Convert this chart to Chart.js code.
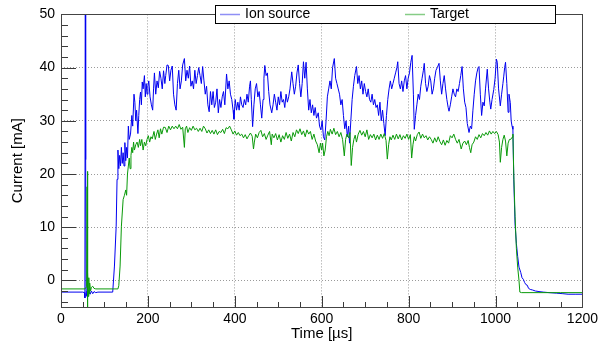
<!DOCTYPE html>
<html>
<head>
<meta charset="utf-8">
<script src="https://cdn.jsdelivr.net/npm/chart.js@4.4.0/dist/chart.umd.min.js"></script>
<style>
  html, body { margin: 0; padding: 0; background: #fff; }
  #wrap { width: 602px; height: 343px; }
</style>
</head>
<body>
<div id="wrap"><canvas id="pulseChart" width="602" height="343"></canvas></div>
<script>
// Ion source current (blue) - time in us, current in mA
const ionTime = [0, 50, 54, 55, 56, 56.5, 57, 58, 60, 62, 64, 67, 70, 73, 76, 80, 85, 119, 123, 127, 129, 131, 133, 135, 137, 139, 141, 143, 145, 147, 149, 151, 153, 155, 157, 160, 163, 165, 168, 170, 172, 174, 177, 179, 181, 183, 185, 187, 189, 192, 194, 196, 198, 200, 202, 205, 208, 211, 213, 215, 218, 221, 224, 227, 230, 233, 236, 239, 241, 244, 247, 250, 253, 256, 259, 262, 265, 268, 271, 274, 277, 280, 284, 287, 290, 293, 296, 299, 302, 305, 308, 311, 314, 317, 320, 323, 326, 329, 332, 335, 338, 341, 344, 347, 350, 353, 356, 359, 362, 365, 368, 371, 374, 377, 381, 384, 387, 390, 393, 396, 398, 401, 404, 407, 410, 413, 416, 419, 422, 425, 428, 431, 434, 436, 438, 441, 444, 447, 450, 453, 456, 459, 462, 465, 467, 469, 472, 475, 478, 481, 485, 488, 491, 494, 497, 500, 503, 506, 509, 512, 515, 518, 521, 524, 527, 531, 534, 537, 540, 543, 546, 549, 552, 555, 558, 561, 564, 567, 570, 573, 576, 579, 582, 585, 588, 592, 595, 598, 601, 604, 607, 610, 613, 616, 619, 622, 625, 629, 632, 635, 638, 641, 644, 647, 650, 653, 656, 659, 662, 664, 667, 670, 673, 676, 680, 683, 686, 689, 692, 695, 698, 701, 704, 707, 710, 713, 716, 719, 722, 725, 728, 731, 734, 737, 740, 743, 746, 749, 752, 755, 758, 761, 764, 767, 770, 773, 775, 778, 781, 784, 787, 790, 793, 796, 799, 802, 805, 808, 811, 813, 816, 819, 822, 825, 828, 831, 834, 836, 839, 842, 845, 848, 851, 854, 857, 860, 863, 866, 870, 873, 876, 879, 882, 885, 888, 891, 893, 896, 899, 902, 905, 908, 911, 914, 917, 920, 923, 926, 929, 932, 935, 939, 942, 945, 948, 951, 954, 957, 960, 962, 965, 968, 971, 974, 977, 981, 984, 987, 989, 992, 996, 999, 1002, 1004, 1007, 1011, 1014, 1017, 1019, 1021, 1023, 1026, 1029, 1031, 1034, 1036, 1038, 1040, 1042, 1045, 1048, 1051, 1054, 1058, 1061, 1064, 1067, 1070, 1073, 1076, 1080, 1085, 1092, 1100, 1110, 1123, 1140, 1155, 1167, 1185, 1200];
const ionCurrent = [-2.2, -2.2, -2.3, -3.3, 70, 70, 22.7, -3.0, -2.0, -3.0, -1.8, -2.6, -2.0, -2.5, -2.1, -2.3, -2.2, -2.2, 2.7, 10.2, 19, 24.5, 21, 23.5, 21.5, 25, 22, 24, 21.5, 25.9, 22.5, 25, 23, 29, 26.5, 27.5, 31, 29, 35, 33.5, 30, 32, 27.6, 31, 34, 35.4, 33, 37.3, 36, 38.5, 34.5, 37, 35, 36.5, 37.5, 34.5, 33, 32, 36, 39, 35, 37.5, 36.2, 39.3, 38, 36, 39.4, 37, 38.5, 40.5, 40.4, 37.5, 39.5, 40.3, 35, 33, 32, 37, 39.5, 36, 37.5, 40.5, 41.7, 37.5, 39.5, 38, 40.3, 36.5, 37.5, 36, 39.5, 37, 38.5, 40, 38.5, 37, 40.2, 37.5, 35, 36.5, 33, 31.7, 35.5, 33, 35.5, 32.5, 33.5, 36, 31.5, 34, 32.5, 34.5, 35.5, 33, 38.8, 36, 37.5, 35, 34, 32, 30.3, 34, 32, 33.5, 32, 34.5, 33, 32.5, 34, 33, 35, 33.5, 36.5, 37.5, 34, 28.9, 33, 36, 37, 34.5, 35.5, 33, 30.5, 34, 38, 40.4, 38.5, 39, 35.5, 33, 31.5, 33, 35, 33.5, 32, 34.5, 33, 35.5, 33.5, 34, 32.5, 35, 33.5, 34.5, 36, 39.2, 37, 35, 36.5, 39, 40.5, 37, 34.5, 37, 41.1, 38, 41, 36, 32, 34, 31.5, 33, 31, 32.5, 30.5, 31.5, 29, 28.3, 30, 27, 26.4, 30, 34.5, 36, 37.5, 36, 40, 41.7, 38, 37, 36, 35, 33, 34, 31, 28.5, 30, 27, 29, 25.8, 30, 34, 36.5, 38.5, 40.2, 37, 38.5, 36, 37.5, 35, 37, 35.5, 34.5, 36, 34, 33.5, 35, 33, 34, 32.5, 33, 31, 33.5, 30, 32, 29.5, 27.2, 31, 34, 36, 37.5, 36, 37, 38, 39, 40, 41.1, 37, 36, 37.5, 35.5, 37.5, 38.5, 36, 38, 39, 41, 42.3, 35, 28.4, 31, 33, 35, 34, 36.5, 38, 39.5, 40.8, 37, 35.5, 36.5, 38.5, 37.5, 35, 36, 38, 39.5, 40, 40.8, 37.5, 35, 37, 38.5, 36, 34, 32.5, 31.8, 33, 34.5, 36, 35, 34.5, 36, 35.5, 37, 38.5, 40.2, 36, 33.5, 32.5, 29.5, 27.8, 29, 28.5, 32, 35, 37.5, 39, 40, 40.2, 35, 31, 33.5, 32.8, 36, 39.7, 36, 33.5, 32.2, 34, 35.9, 38, 41.6, 41, 36, 32.8, 35, 37, 38.4, 40, 41, 37, 31.6, 35, 33.4, 30, 29, 28.4, 19, 10.6, 6.9, 4.5, 2.5, 1.5, 0.5, 0.2, -0.4, -0.8, -0.9, -1.5, -1.7, -1.8, -2.0, -2.1, -2.2, -2.3, -2.4, -2.5, -2.6, -2.6, -2.6];

// Target current (green)
const targetTime = [0, 1, 55, 59, 60, 60.5, 61, 61.5, 62, 63, 64, 65, 66, 68, 70, 73, 76, 80, 131, 133, 136, 139, 143, 146, 149, 151, 153, 155, 157, 159, 161, 163, 165, 167, 169, 172, 175, 178, 181, 183, 186, 189, 192, 195, 198, 201, 204, 207, 210, 214, 217, 220, 223, 226, 229, 232, 236, 240, 244, 248, 252, 256, 260, 264, 268, 272, 276, 280, 284, 286, 289, 292, 296, 300, 304, 308, 312, 316, 320, 324, 328, 332, 336, 340, 344, 348, 352, 356, 360, 364, 368, 372, 376, 380, 384, 388, 392, 396, 400, 404, 408, 412, 416, 420, 424, 428, 432, 436, 440, 443, 445, 448, 452, 456, 460, 464, 468, 472, 476, 480, 484, 486, 490, 494, 498, 502, 506, 510, 514, 518, 522, 526, 530, 534, 538, 542, 546, 550, 554, 558, 562, 566, 570, 574, 578, 582, 586, 590, 594, 597, 600, 602, 605, 608, 611, 614, 617, 620, 624, 628, 632, 636, 640, 644, 648, 652, 655, 658, 662, 665, 668, 671, 674, 677, 680, 684, 688, 692, 696, 700, 704, 708, 712, 716, 720, 724, 728, 732, 736, 740, 744, 748, 751, 754, 757, 760, 764, 768, 772, 776, 780, 784, 788, 792, 796, 800, 804, 807, 810, 813, 816, 820, 824, 828, 832, 836, 840, 844, 848, 852, 856, 860, 864, 868, 872, 876, 880, 884, 888, 892, 896, 900, 904, 908, 912, 916, 921, 925, 929, 933, 937, 940, 943, 946, 950, 954, 958, 962, 966, 970, 974, 978, 982, 986, 990, 994, 998, 1002, 1006, 1009, 1011, 1014, 1017, 1020, 1023, 1026, 1029, 1032, 1035, 1038, 1040, 1042, 1045, 1048, 1051, 1054, 1056, 1060, 1100, 1150, 1200];
const targetCurrent = [-0.2, -1.6, -1.6, -1.2, 17.6, -2, 20.5, -5.5, 1.5, -3, 0.5, -2.5, -0.5, -2, -1.3, -1.1, -1.5, -1.6, -1.6, -1, 2.7, 10.2, 15.2, 16, 17, 16, 20, 21.5, 23, 21, 23.5, 25, 24, 26, 24.5, 25.5, 26, 25, 26.5, 25.3, 26.5, 24.5, 26, 25.3, 26.5, 27.2, 26, 27, 26.6, 28, 26.5, 27.5, 28.3, 26.8, 28.5, 27.5, 28.8, 28.75, 27.8, 29, 28.3, 29, 28.5, 29, 28.5, 29.3, 28.4, 28.8, 25, 28.5, 29, 27.8, 28.7, 28.2, 29, 28.3, 28.6, 28, 28.6, 28, 29, 28.5, 27.7, 28.3, 27.6, 28.2, 27.5, 28.3, 27.4, 28, 27.8, 28.4, 27.6, 28.7, 28.5, 29, 28.3, 27.5, 28.1, 27.3, 27.8, 27.2, 27.5, 26.8, 27.4, 26.6, 27.2, 27.7, 27.1, 24.7, 26, 27.5, 26.8, 27.8, 28.2, 27, 27.6, 26.5, 27.3, 28, 25.5, 27.5, 26.8, 27.6, 26.4, 27.4, 26, 27.2, 26.5, 27.8, 26.7, 27.5, 26.2, 27.8, 27, 28.3, 27.6, 28.5, 27.4, 28.1, 27, 28.3, 27.5, 28, 26.5, 27.5, 26.2, 25.5, 24, 25.8, 24.5, 25.8, 23.4, 24.5, 27, 28, 27.2, 28.4, 27.5, 28.6, 27.4, 28, 27, 27.8, 26.5, 23.4, 26.5, 27.5, 26.8, 27.8, 21.6, 25, 26.5, 27.3, 26, 27.5, 28.2, 27.3, 28, 27, 28.3, 26.5, 27.4, 26.8, 27.5, 26.4, 27.3, 26.5, 27.5, 26.7, 27.6, 26.3, 22.8, 25.5, 27, 26.4, 27.3, 26.5, 27.5, 26.6, 27.4, 26.4, 27.2, 26.7, 27.5, 26.5, 27.4, 23, 25.5, 27, 26.2, 27.4, 27.9, 26.7, 27.5, 26.8, 27.2, 26.4, 27, 26.5, 25.8, 26.8, 26, 27, 26.1, 25.5, 26.4, 25.4, 26.3, 25.8, 27.2, 26.8, 27.5, 26.5, 25.8, 26.5, 24.7, 25.8, 26.2, 25.5, 26.3, 25, 24, 25.5, 26, 27, 26.5, 27.4, 26.8, 27.6, 27.2, 27.8, 27.3, 28.1, 27.5, 28, 27.6, 28, 27.4, 26, 22.2, 25, 26.5, 27.3, 26.2, 23.4, 25.8, 26.5, 26.5, 26.9, 27.5, 20, 12, 6, 2.5, 0, -2.2, -2.3, -2.3, -2.3, -2.3];

const xTicks = [0, 200, 400, 600, 800, 1000, 1200];
const yTicks = [0, 10, 20, 30, 40, 50];

const FONT = 'Liberation Sans, Arial, Helvetica, sans-serif';

function toPoints(xs, ys) {
    return xs.map((x, i) => ({ x: x, y: ys[i] }));
}

// ROOT-like frame: box, inner major/minor tick marks and the legend box
const rootFrame = {
    id: 'rootFrame',
    afterDraw(chart) {
        const ctx = chart.ctx;
        const area = chart.chartArea;
        const xs = chart.scales.x;
        const ys = chart.scales.y;
        ctx.save();
        ctx.strokeStyle = '#3a3a3a';
        ctx.lineWidth = 1;
        ctx.beginPath();
        // x ticks (from bottom, pointing up)
        for (let v = 0; v <= 1200; v += 50) {
            const px = Math.round(xs.getPixelForValue(v)) + 0.5;
            const len = (v % 200 === 0) ? 11 : 5;
            ctx.moveTo(px, area.bottom);
            ctx.lineTo(px, area.bottom - len);
        }
        // y ticks (from left, pointing right)
        for (let v = -4; v <= 50; v += 2) {
            const py = Math.round(ys.getPixelForValue(v)) + 0.5;
            const len = (v % 10 === 0) ? 15 : 7;
            ctx.moveTo(area.left, py);
            ctx.lineTo(area.left + len, py);
        }
        ctx.stroke();
        ctx.strokeStyle = '#444';
        ctx.strokeRect(Math.round(area.left) + 0.5, Math.round(area.top) + 0.5,
            Math.round(area.right - area.left), Math.round(area.bottom - area.top));

        // legend box
        const lx = 215.5, ly = 5.5, lw = 340, lh = 18;
        ctx.fillStyle = '#fff';
        ctx.fillRect(lx, ly, lw, lh);
        ctx.strokeStyle = '#000';
        ctx.strokeRect(lx, ly, lw, lh);
        const entries = [
            { x: 220, ds: chart.data.datasets[0] },
            { x: 405, ds: chart.data.datasets[1] }
        ];
        ctx.font = '14px ' + FONT;
        ctx.textBaseline = 'middle';
        entries.forEach(e => {
            ctx.strokeStyle = e.ds.legendColor;
            ctx.lineWidth = 1.5;
            ctx.beginPath();
            ctx.moveTo(e.x, 14.5);
            ctx.lineTo(e.x + 20, 14.5);
            ctx.stroke();
            ctx.fillStyle = '#000';
            ctx.fillText(e.ds.label, e.x + 25, 14.5);
        });
        ctx.restore();
    }
};

const ctx = document.getElementById('pulseChart').getContext('2d');
new Chart(ctx, {
    type: 'line',
    data: {
        datasets: [
            {
                label: 'Ion source',
                data: toPoints(ionTime, ionCurrent),
                borderColor: '#0000f0',
                legendColor: '#8f8ff5',
                borderWidth: 1,
                pointRadius: 0,
                tension: 0,
                order: 2
            },
            {
                label: 'Target',
                data: toPoints(targetTime, targetCurrent),
                borderColor: '#0a9a0a',
                legendColor: '#86cc86',
                borderWidth: 1,
                pointRadius: 0,
                tension: 0,
                order: 1
            }
        ]
    },
    options: {
        responsive: false,
        animation: false,
        events: [],
        layout: { padding: { left: 0, right: 16, top: 14, bottom: 0 } },
        plugins: {
            legend: { display: false },
            tooltip: { enabled: false }
        },
        scales: {
            x: {
                type: 'linear',
                min: 0,
                max: 1200,
                afterBuildTicks: scale => { scale.ticks = xTicks.map(v => ({ value: v })); },
                afterFit: scale => { scale.height = 36; },
                grid: { color: '#9a9a9a', drawTicks: false, lineWidth: 1 },
                border: { display: false, dash: [1, 2] },
                ticks: { padding: 4, color: '#000', font: { family: FONT, size: 14 }, maxRotation: 0, callback: v => String(v) },
                title: { display: true, text: 'Time [µs]', color: '#000', font: { family: FONT, size: 15 }, padding: { top: 0, bottom: 0 } }
            },
            y: {
                min: -5,
                max: 50,
                afterBuildTicks: scale => { scale.ticks = yTicks.map(v => ({ value: v })); },
                afterFit: scale => { scale.width = 61; },
                grid: { color: '#9a9a9a', drawTicks: false, lineWidth: 1 },
                border: { display: false, dash: [1, 2] },
                ticks: { padding: 6, color: '#000', font: { family: FONT, size: 14 }, callback: v => String(v) },
                title: { display: true, text: 'Current [mA]', color: '#000', font: { family: FONT, size: 15 }, padding: { top: 9, bottom: 0 } }
            }
        }
    },
    plugins: [rootFrame]
});
</script>
</body>
</html>
